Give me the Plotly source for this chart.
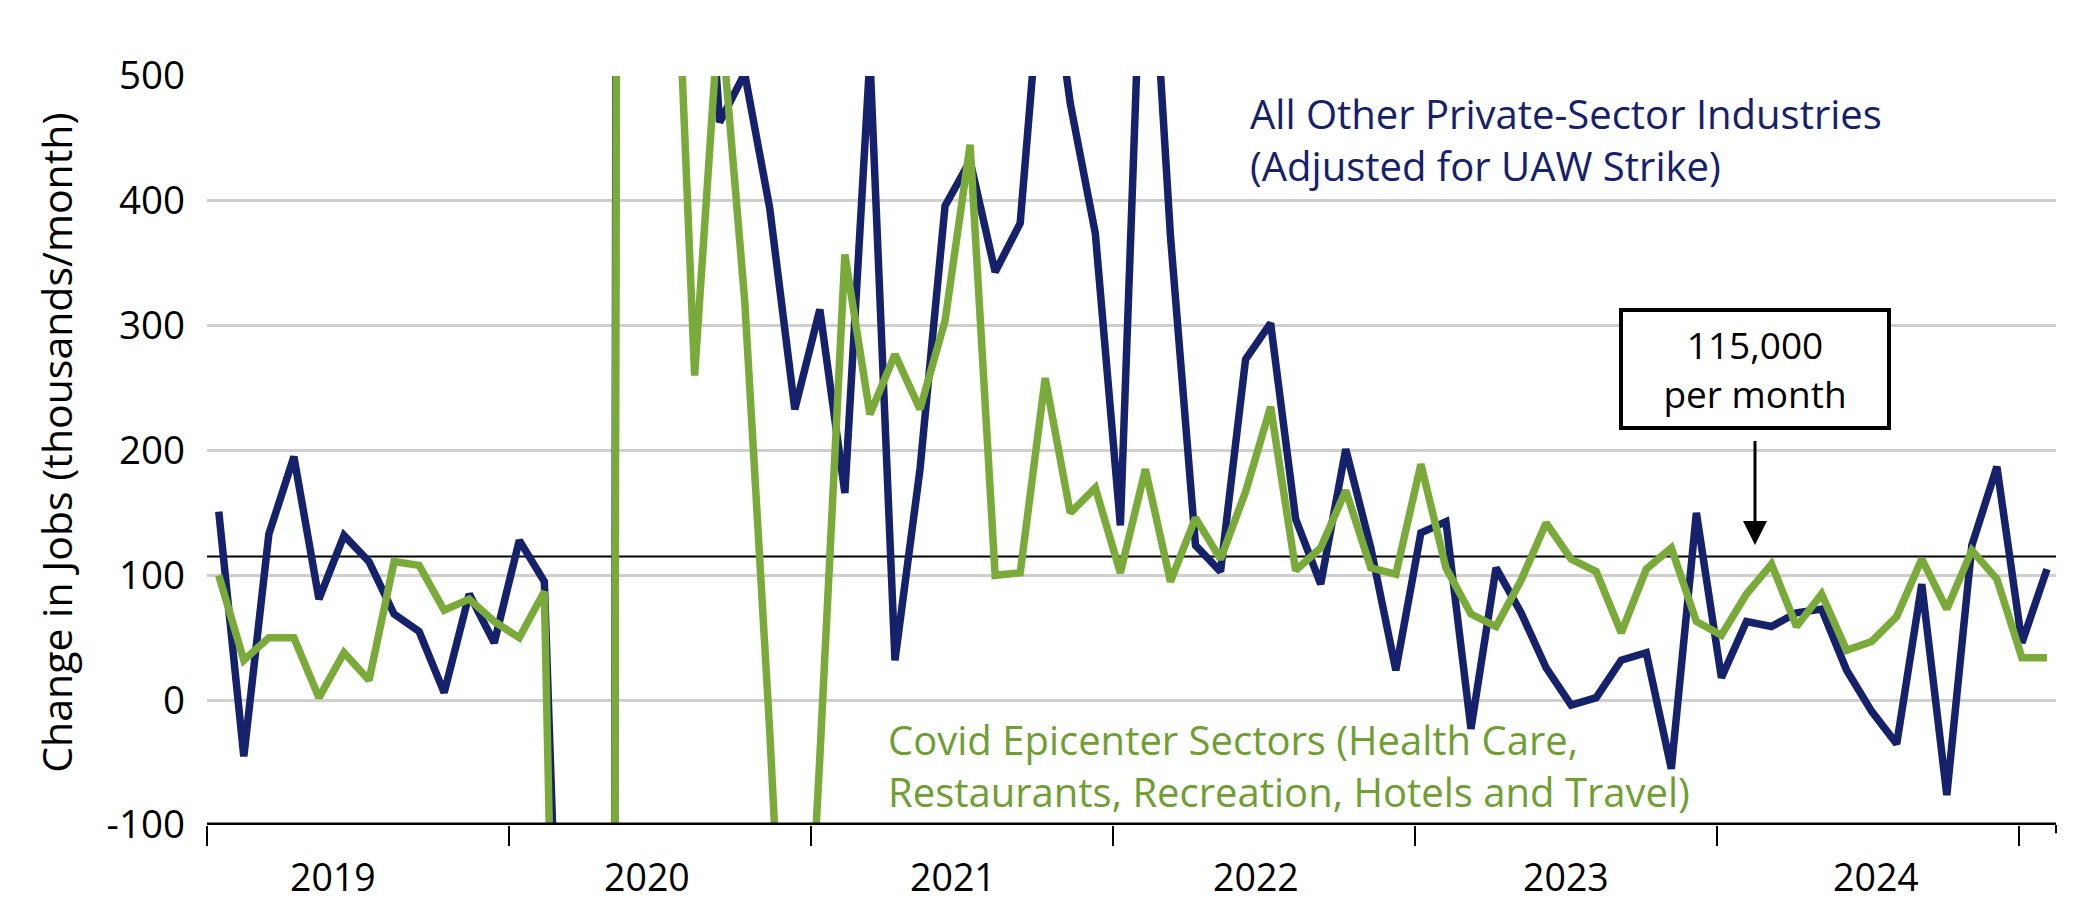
import pandas as pd
import plotly.graph_objects as go

# monthly change in private payrolls, thousands, Jan 2019 - Feb 2025
months = pd.date_range("2019-01-01", "2025-02-01", freq="MS").strftime("%b %Y").tolist()

all_other = [
    151, -45, 133, 195, 81, 132, 111, 69, 55, 6, 85, 46,
    128, 95, -500, -10700, 2400, 2100, 900, 750, 463, 502, 394, 233,
    313, 166, 515, 32, 185, 396, 432, 343, 382, 625, 478, 374,
    140, 700, 372, 124, 103, 273, 302, 145, 93, 201, 122, 24,
    134, 143, -23, 106, 70, 26, -4, 2, 32, 38, -55, 150,
    18, 63, 59, 70, 73, 24, -9, -35, 93, -76, 124, 187,
    46, 105,
]

covid_epicenter = [
    100, 32, 50, 50, 2, 38, 16, 111, 108, 72, 81, 63,
    50, 87, -870, -9000, 1900, 2400, 750, 260, 560, 320, -25, -420,
    -46, 357, 229, 277, 233, 304, 445, 100, 102, 258, 150, 170,
    102, 185, 95, 146, 113, 167, 235, 104, 122, 168, 106, 101,
    189, 106, 69, 59, 96, 142, 113, 103, 54, 105, 122, 63,
    52, 85, 109, 59, 85, 40, 47, 67, 113, 73, 120, 97,
    34, 34,
]

year_labels = ["2019", "2020", "2021", "2022", "2023", "2024"]
y_ticks = [-100, 0, 100, 200, 300, 400, 500]
avg_line = 115

NAVY = "#15216a"
GREEN = "#7aab3a"
GREEN_TXT = "#6f9e33"
FONT = "Open Sans"

x = list(range(len(months)))

# year boundaries and label spots, in month-index units
year_ticks = [-0.47 + 12.06 * k for k in range(7)]
label_pos = [4.58, 17.09, 29.31, 41.43, 53.8, 66.18]

fig = go.Figure()

fig.add_trace(go.Scatter(
    x=x, y=all_other, mode="lines", name="All Other Private-Sector Industries",
    line=dict(color=NAVY, width=7.5), text=months,
    hovertemplate="%{text}: %{y}<extra></extra>",
))
fig.add_trace(go.Scatter(
    x=x, y=covid_epicenter, mode="lines", name="Covid Epicenter Sectors",
    line=dict(color=GREEN, width=7.5), text=months,
    hovertemplate="%{text}: %{y}<extra></extra>",
))

shapes = [
    # 115k reference line
    dict(type="line", xref="paper", x0=0, x1=1, yref="y", y0=avg_line, y1=avg_line,
         line=dict(color="black", width=2), layer="below"),
    # heavy bottom axis
    dict(type="line", xref="paper", x0=0, x1=1, yref="y", y0=-100, y1=-100,
         line=dict(color="black", width=5), layer="above"),
    # short stub at right end of axis
    dict(type="line", xref="paper", x0=1, x1=1, yref="paper", y0=0, y1=-0.011,
         line=dict(color="black", width=2)),
]

annotations = [
    dict(text="All Other Private-Sector Industries<br>(Adjusted for UAW Strike)",
         xref="paper", yref="paper", x=0.5631, y=0.9155, xanchor="left", yanchor="middle",
         align="left", showarrow=False, font=dict(family=FONT, size=40, color=NAVY)),
    dict(text="Covid Epicenter Sectors (Health Care,<br>Restaurants, Recreation, Hotels and Travel)",
         xref="paper", yref="paper", x=0.3673, y=0.079, xanchor="left", yanchor="middle",
         align="left", showarrow=False, font=dict(family=FONT, size=40, color=GREEN_TXT)),
    dict(text="115,000<br>per month", xref="paper", yref="y", x=0.8372, y=avg_line + 9.3,
         showarrow=True, ax=0, ay=-176, arrowhead=2, arrowsize=1.6, arrowwidth=3,
         arrowcolor="black", startstandoff=13, standoff=0,
         width=264, height=114, borderwidth=4, borderpad=0, bordercolor="black",
         bgcolor="white", align="center", font=dict(family=FONT, size=37, color="black")),
    dict(text="Change in Jobs (thousands/month)", xref="paper", yref="paper",
         x=-0.0817, y=0.5103, textangle=-90, showarrow=False,
         xanchor="center", yanchor="middle", font=dict(family=FONT, size=41, color="black")),
]
for lab, pos in zip(year_labels, label_pos):
    annotations.append(dict(text=lab, xref="x", yref="paper", x=pos, y=-0.0685,
                            xanchor="center", yanchor="middle", showarrow=False,
                            font=dict(family=FONT, size=37.5, color="black")))

fig.update_layout(
    width=2084, height=918,
    margin=dict(l=199, r=36, t=68, b=101),
    plot_bgcolor="white", paper_bgcolor="white",
    showlegend=False,
    shapes=shapes, annotations=annotations,
    xaxis=dict(
        range=[-0.47, 73.36], tickmode="array", tickvals=year_ticks,
        ticktext=[""] * len(year_ticks), ticks="outside", ticklen=20, tickwidth=2,
        tickcolor="black", showgrid=False, zeroline=False, showline=False,
    ),
    yaxis=dict(
        range=[-100, 500], tickmode="array", tickvals=y_ticks,
        ticktext=[str(v) for v in y_ticks], ticks="", showgrid=True,
        gridcolor="#cfcfcf", gridwidth=2.5, zeroline=False, showline=False,
        ticklabelstandoff=21,
        tickfont=dict(family=FONT, size=38.5, color="black"),
    ),
)

fig.write_html("out.html")
